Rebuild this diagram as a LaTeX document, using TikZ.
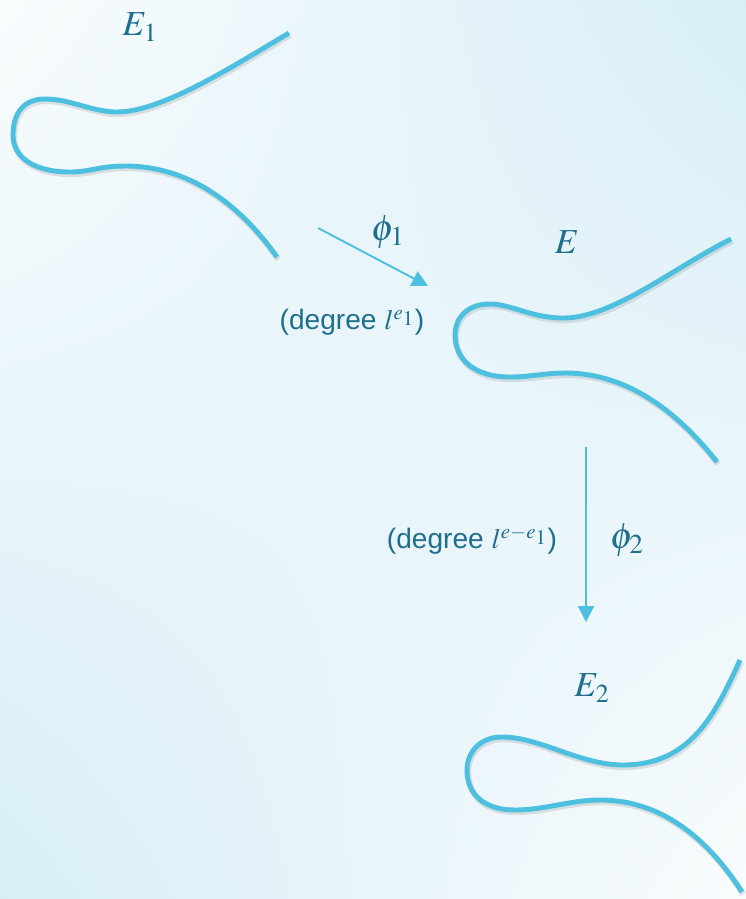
\documentclass[tikz,border=0pt]{standalone}
\usepackage{mathptmx}
\usepackage{fontspec}
\setsansfont{Liberation Sans}
\usepackage{tikz}
\usetikzlibrary{arrows.meta, positioning, shadings}
\definecolor{curveblue}{HTML}{4EC0DF}
\definecolor{labelteal}{HTML}{1E6F8E}
\definecolor{bgblue}{HTML}{D8EEF7}
\definecolor{bgwhite}{HTML}{F9FCFD}
\tikzset{
  curvebranch/.style={
    draw=curveblue, line width=2.8pt
  },
  curveshadow/.style={
    draw=black, opacity=0.10, line width=3.4pt,
    transform canvas={shift={(0.6pt,-1.2pt)}}
  },
  maparrow/.style={
    -{Triangle[length=3.2mm, width=3.2mm]}, draw=curveblue, line width=1.1pt
  },
  curvelabel/.style={
    text=labelteal, font=\fontsize{20}{24}\selectfont, inner sep=1pt
  },
  maplabel/.style={
    text=labelteal, font=\fontsize{21}{25}\selectfont, inner sep=0pt
  },
  degreelabel/.style={
    text=labelteal, font=\sffamily\fontsize{16}{19}\selectfont, inner sep=1pt
  },
}

\begin{document}
\begin{tikzpicture}[x=0.02cm, y=-0.02cm]
  % background
  \shade[upper left=bgwhite, upper right=bgblue, lower left=bgblue,
    lower right=bgwhite] (0,0) rectangle (746,899);
  \useasboundingbox (0,0) rectangle (746,899);

  % --- E1 ---
  \foreach \sty in {curveshadow, curvebranch}
    \draw[\sty] (289,33) .. controls (230,68) and (160,113) .. (115,112)
      .. controls (90,111) and (70,99) .. (45,99)
      .. controls (20,99) and (13,118) .. (13,135)
      .. controls (13,158) and (35,172) .. (70,172)
      .. controls (90,172) and (100,166) .. (125,166)
      .. controls (190,166) and (240,205) .. (277,257);
  \node[curvelabel] (e1) at (140,27) {$E_1$};

  % --- E ---
  \foreach \sty in {curveshadow, curvebranch}
    \draw[\sty] (731,239) .. controls (670,270) and (610,320) .. (560,318)
      .. controls (530,317) and (510,304) .. (490,304)
      .. controls (465,304) and (455,320) .. (455,335)
      .. controls (455,360) and (475,377) .. (510,377)
      .. controls (530,377) and (545,373) .. (565,373)
      .. controls (630,373) and (680,415) .. (717,462);
  \node[curvelabel] (e) at (567,242) {$E$};

  % --- E2 ---
  \foreach \sty in {curveshadow, curvebranch}
    \draw[\sty] (740,660) .. controls (715,715) and (690,765) .. (623,765)
      .. controls (580,765) and (540,737) .. (502,737)
      .. controls (480,737) and (467,752) .. (467,770)
      .. controls (467,795) and (485,810) .. (515,810)
      .. controls (545,810) and (570,800) .. (600,800)
      .. controls (670,800) and (715,850) .. (742,892);
  \node[curvelabel] (e2) at (592,688) {$E_2$};

  % Arrows
  \coordinate (f1s) at (318,228);
  \coordinate (f1e) at (428,286);
  \draw[maparrow] (f1s) -- (f1e);
  \node[maplabel] (phi1) at (388,232) {$\phi_1$};
  \node[degreelabel] (deg1) at (352,322) {(degree $l^{e_{\scriptstyle 1}}$)};

  \coordinate (f2s) at (586,447);
  \coordinate (f2e) at (586,622);
  \draw[maparrow] (f2s) -- (f2e);
  \node[maplabel] (phi2) at (627,540) {$\phi_2$};
  \node[degreelabel] (deg2) at (472,540) {(degree $l^{e-e_{\scriptstyle 1}}$)};
\end{tikzpicture}
\end{document}
